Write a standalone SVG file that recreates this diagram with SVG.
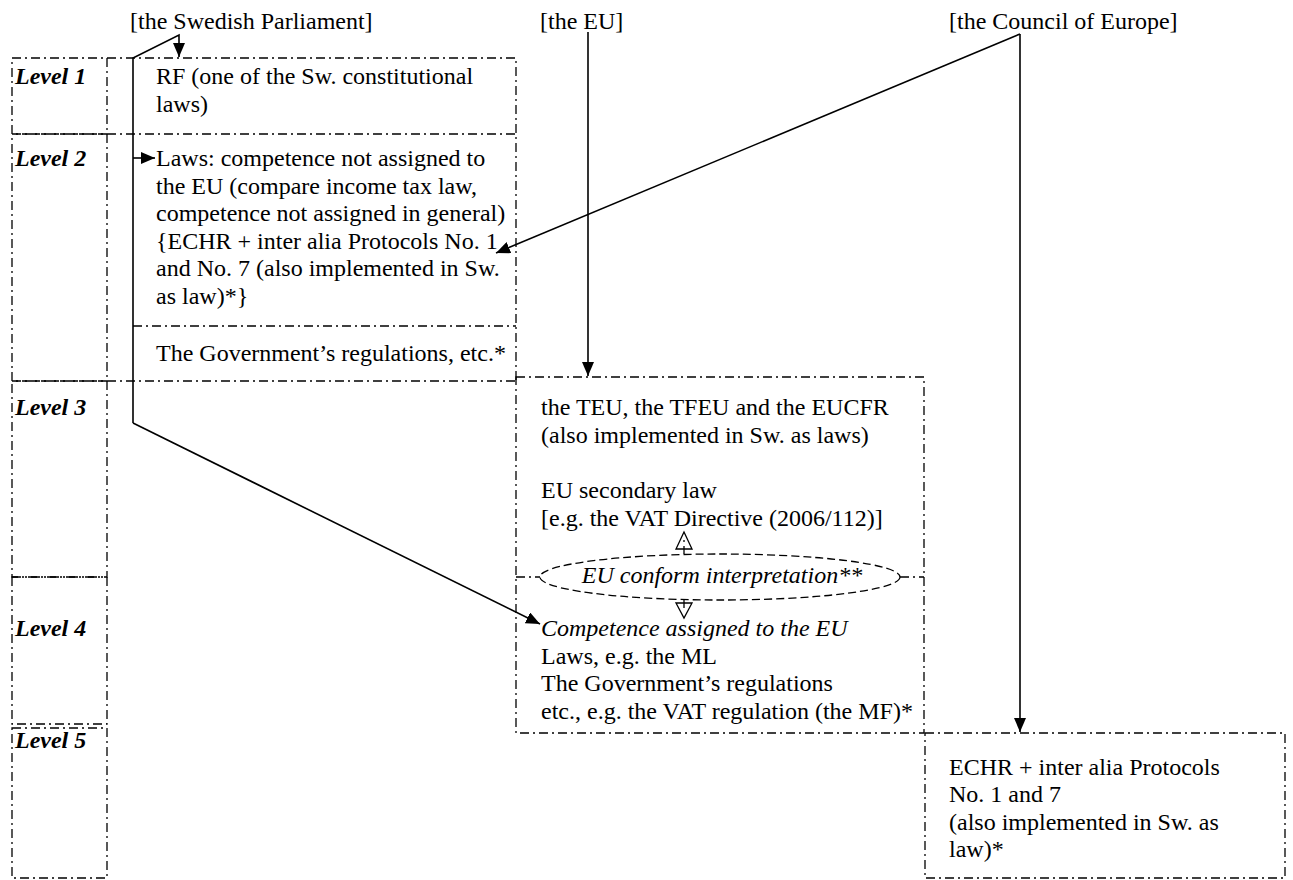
<svg xmlns="http://www.w3.org/2000/svg" width="1293" height="880" viewBox="0 0 1293 880">
<style>
text{font-family:"Liberation Serif","Times New Roman",serif;font-size:24px;fill:#000}
.lvl{font-weight:bold;font-style:italic}
.it{font-style:italic}
.dd{fill:none;stroke:#000;stroke-width:1.3;stroke-dasharray:9 4 2 4}
.dash{fill:none;stroke:#000;stroke-width:1.3;stroke-dasharray:8 4}
.con{fill:none;stroke:#000;stroke-width:1.6}
.tri{fill:#fff;stroke:#000;stroke-width:1.3}
</style>
<defs>
<marker id="ah" viewBox="0 0 14 12" refX="14" refY="6" markerWidth="14" markerHeight="12" markerUnits="userSpaceOnUse" orient="auto"><path d="M0,0L14,6L0,12z" fill="#000"/></marker>
</defs>
<rect width="1293" height="880" fill="#fff"/>

<g id="src-parliament"><text x="130" y="29">[the Swedish Parliament]</text></g>
<g id="src-eu"><text x="540" y="29">[the EU]</text></g>
<g id="src-coe"><text x="949" y="29">[the Council of Europe]</text></g>

<g id="level1"><rect class="dd" x="12" y="58" width="95" height="76"/><text class="lvl" x="15" y="84">Level 1</text></g>
<g id="level2"><rect class="dd" x="12" y="134" width="95" height="247"/><text class="lvl" x="15" y="166">Level 2</text></g>
<g id="level3"><rect class="dd" x="12" y="381" width="95" height="196"/><text class="lvl" x="15" y="415">Level 3</text></g>
<g id="level4"><rect class="dd" x="12" y="577" width="95" height="147"/><text class="lvl" x="15" y="636">Level 4</text></g>
<g id="level5"><rect class="dd" x="12" y="728" width="95" height="150"/><text class="lvl" x="15" y="748">Level 5</text></g>

<g id="swedish-law">
<path class="dd" d="M107,58H516V381"/>
<path class="dd" d="M107,134H516"/>
<path class="dd" d="M133,326H516"/>
<path class="dd" d="M107,381H516"/>
<text x="156" y="84">RF (one of the Sw. constitutional</text>
<text x="156" y="111.6">laws)</text>
<text x="156" y="166">Laws: competence not assigned to</text>
<text x="156" y="193.6">the EU (compare income tax law,</text>
<text x="156" y="221.2">competence not assigned in general)</text>
<text x="156" y="248.8">{ECHR + inter alia Protocols No. 1</text>
<text x="156" y="276.4">and No. 7 (also implemented in Sw.</text>
<text x="156" y="304">as law)*}</text>
<text x="156" y="361">The Government’s regulations, etc.*</text>
</g>

<g id="eu-law">
<path class="dd" d="M516,377H924V733H516Z"/>
<path class="dd" d="M516,577H540M900,577H924"/>
<text x="541" y="415">the TEU, the TFEU and the EUCFR</text>
<text x="541" y="442.6">(also implemented in Sw. as laws)</text>
<text x="541" y="498">EU secondary law</text>
<text x="541" y="525.6">[e.g. the VAT Directive (2006/112)]</text>
<text class="it" x="541" y="636">Competence assigned to the EU</text>
<text x="541" y="663.6">Laws, e.g. the ML</text>
<text x="541" y="691.2">The Government’s regulations</text>
<text x="541" y="718.8">etc., e.g. the VAT regulation (the MF)*</text>
</g>

<g id="eu-conform">
<ellipse class="dash" cx="720" cy="577" rx="180" ry="23"/>
<text class="it" x="722" y="583" text-anchor="middle">EU conform interpretation**</text>
<path class="dash" d="M684,554V540M684,600V612"/>
<polygon class="tri" points="684,532 676,549 692,549" fill-opacity="0"/>
<polygon class="tri" points="676,603 692,603 684,618" fill-opacity="0"/>
</g>

<g id="coe-law">
<rect class="dd" x="925" y="733" width="360" height="145"/>
<text x="949" y="774.6">ECHR + inter alia Protocols</text>
<text x="949" y="802.2">No. 1 and 7</text>
<text x="949" y="829.8">(also implemented in Sw. as</text>
<text x="949" y="857.4">law)*</text>
</g>

<g id="connectors">
<path class="con" d="M133,423V58L179,35V57" marker-end="url(#ah)"/>
<path class="con" d="M133,158H155" marker-end="url(#ah)"/>
<path class="con" d="M133,423L540,624" marker-end="url(#ah)"/>
<path class="con" d="M588,32V376" marker-end="url(#ah)"/>
<path class="con" d="M1020,34V732" marker-end="url(#ah)"/>
<path class="con" d="M1020,34L496,253" marker-end="url(#ah)"/>
</g>
</svg>
